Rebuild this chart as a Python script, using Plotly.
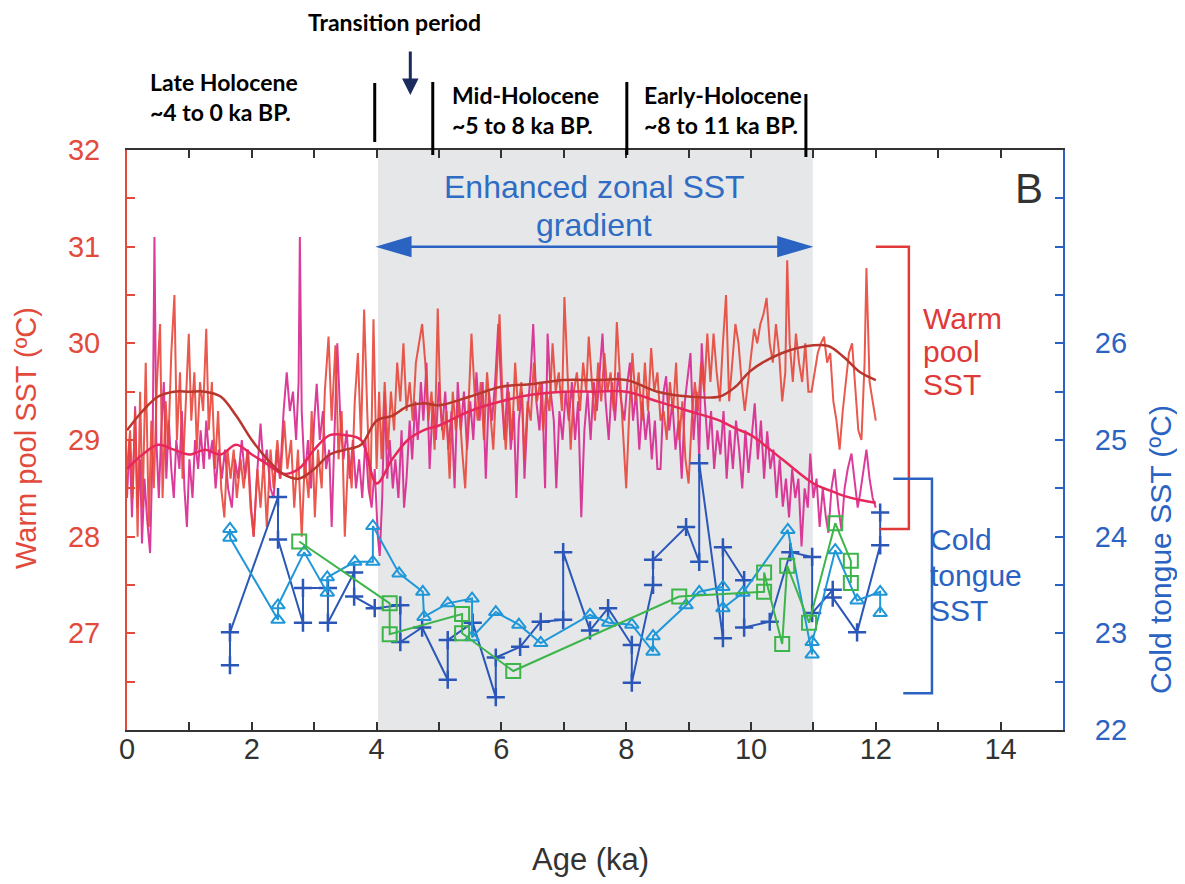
import plotly.graph_objects as go

# ---------------- Warm pool SST (left axis) ----------------
wp_red_age = [0.00,0.05,0.09,0.13,0.17,0.21,0.25,0.30,0.35,0.39,0.43,0.48,0.53,0.57,0.62,0.66,0.71,0.76,0.80,0.85,0.89,0.94,0.99,1.03,1.08,1.12,1.17,1.22,1.27,1.31,1.36,1.41,1.46,1.51,1.56,1.61,1.66,1.71,1.76,1.82,1.87,1.93,1.98,2.03,2.09,2.14,2.19,2.24,2.30,2.35,2.41,2.46,2.52,2.57,2.63,2.68,2.74,2.80,2.85,2.91,2.96,3.01,3.06,3.12,3.17,3.23,3.28,3.34,3.39,3.44,3.49,3.55,3.60,3.65,3.70,3.75,3.80,3.85,3.90,3.95,4.00,4.04,4.08,4.13,4.18,4.23,4.28,4.33,4.38,4.43,4.48,4.53,4.58,4.63,4.68,4.73,4.78,4.83,4.88,4.93,4.98,5.02,5.07,5.12,5.17,5.22,5.27,5.32,5.37,5.42,5.47,5.52,5.57,5.62,5.67,5.72,5.77,5.82,5.87,5.92,5.97,6.02,6.07,6.12,6.17,6.22,6.27,6.32,6.37,6.42,6.47,6.52,6.57,6.62,6.67,6.72,6.77,6.82,6.87,6.92,6.97,7.01,7.06,7.11,7.16,7.21,7.26,7.31,7.36,7.40,7.45,7.50,7.55,7.60,7.65,7.70,7.75,7.80,7.85,7.90,7.95,8.00,8.05,8.10,8.15,8.20,8.25,8.30,8.35,8.40,8.45,8.50,8.55,8.60,8.65,8.70,8.75,8.80,8.85,8.90,8.95,9.00,9.05,9.10,9.15,9.20,9.25,9.30,9.35,9.40,9.45,9.50,9.55,9.60,9.65,9.70,9.75,9.80,9.85,9.90,9.95,10.00,10.05,10.10,10.15,10.20,10.25,10.30,10.35,10.40,10.45,10.50,10.55,10.58,10.62,10.67,10.72,10.77,10.82,10.87,10.92,10.97,11.02,11.07,11.12,11.17,11.22,11.27,11.32,11.37,11.42,11.47,11.52,11.57,11.62,11.67,11.72,11.77,11.82,11.85,11.90,11.95,12.00]
wp_red_sst = [28.7,29.1,28.4,29.3,28.0,29.5,28.3,29.8,28.1,29.2,28.5,29.6,30.2,28.4,29.4,28.9,29.9,30.5,29.0,29.7,28.6,29.3,30.1,29.2,29.7,28.9,29.6,29.3,30.15,29.1,29.6,28.7,29.3,28.5,28.2,28.9,28.6,28.9,28.4,28.8,28.5,28.9,28.3,28.0,28.7,28.3,28.8,28.1,28.9,28.5,29.0,28.6,29.2,28.7,29.0,28.3,28.9,28.0,28.8,28.4,29.3,28.2,28.9,28.5,29.5,30.07,29.2,29.98,28.8,29.3,28.0,28.9,28.5,29.4,29.9,29.0,30.35,29.3,28.4,30.25,28.7,29.5,28.8,29.6,28.9,29.5,29.1,29.8,29.4,30.0,29.3,29.6,29.2,29.8,30.0,30.2,29.8,29.2,29.5,28.9,30.36,29.4,29.0,29.3,28.6,29.5,29.1,29.4,28.9,28.5,29.3,30.1,29.5,29.2,29.6,29.0,29.7,29.3,28.9,29.6,30.3,29.4,28.9,29.5,29.0,29.8,29.3,29.6,28.8,29.4,29.2,29.8,29.4,29.6,29.1,29.5,29.3,30.0,29.5,29.7,29.3,30.48,29.6,28.9,29.5,29.7,29.3,29.8,29.5,30.07,29.6,29.2,29.8,29.4,29.9,29.5,29.7,29.3,30.22,29.6,29.0,28.5,29.3,29.9,29.4,29.7,29.2,29.8,29.3,29.95,29.5,29.7,29.2,29.3,29.0,29.6,29.3,29.8,29.0,29.4,28.8,28.55,29.2,29.6,29.3,29.8,29.5,30.1,29.6,30.1,29.7,29.4,30.0,30.5,29.4,29.8,30.2,30.0,29.6,29.3,29.6,29.9,30.15,30.0,30.2,30.3,30.47,30.0,29.8,30.2,29.9,29.4,29.7,30.86,30.0,29.6,30.1,29.8,29.6,30.0,29.5,29.5,29.7,29.9,30.0,30.07,29.8,29.9,29.4,29.2,28.9,29.3,29.6,29.9,30.0,29.5,29.1,29.0,29.8,30.78,29.6,29.4,29.2]

wp_mag_age = [0.00,0.04,0.08,0.13,0.17,0.21,0.24,0.28,0.32,0.37,0.41,0.44,0.47,0.51,0.55,0.59,0.63,0.67,0.71,0.75,0.79,0.84,0.88,0.92,0.96,1.00,1.05,1.09,1.14,1.18,1.23,1.27,1.32,1.37,1.42,1.47,1.52,1.57,1.62,1.68,1.73,1.78,1.84,1.89,1.94,1.99,2.03,2.08,2.14,2.19,2.24,2.30,2.35,2.40,2.45,2.51,2.56,2.61,2.66,2.71,2.75,2.77,2.80,2.85,2.90,2.95,3.00,3.04,3.09,3.14,3.19,3.24,3.28,3.33,3.37,3.42,3.47,3.52,3.57,3.62,3.67,3.72,3.77,3.82,3.87,3.92,3.97,4.02,4.05,4.09,4.13,4.17,4.21,4.26,4.30,4.35,4.40,4.44,4.48,4.53,4.57,4.62,4.66,4.71,4.75,4.80,4.85,4.90,4.95,5.00,5.05,5.10,5.15,5.20,5.25,5.30,5.35,5.40,5.45,5.50,5.55,5.60,5.65,5.70,5.75,5.80,5.85,5.90,5.95,6.00,6.05,6.10,6.15,6.20,6.24,6.28,6.33,6.37,6.42,6.47,6.51,6.56,6.61,6.65,6.70,6.74,6.79,6.84,6.88,6.93,6.98,7.03,7.08,7.13,7.18,7.23,7.28,7.33,7.38,7.43,7.48,7.53,7.58,7.62,7.67,7.72,7.77,7.82,7.87,7.92,7.97,8.02,8.06,8.11,8.16,8.21,8.26,8.31,8.36,8.41,8.46,8.50,8.55,8.60,8.64,8.69,8.74,8.79,8.84,8.89,8.94,8.99,9.03,9.08,9.13,9.17,9.21,9.26,9.31,9.36,9.41,9.46,9.51,9.56,9.61,9.66,9.71,9.76,9.81,9.86,9.91,9.96,10.01,10.06,10.11,10.16,10.21,10.26,10.31,10.36,10.41,10.46,10.51,10.56,10.61,10.66,10.71,10.76,10.81,10.86,10.91,10.95,11.00,11.05,11.10,11.15,11.20,11.24,11.29,11.34,11.40,11.45,11.50,11.55,11.61,11.66,11.71,11.75,11.80,11.85,11.90,11.95,12.00]
wp_mag_sst = [28.4,29.0,28.2,29.35,28.3,28.8,27.93,28.6,28.2,27.83,28.9,31.1,29.0,28.4,29.1,29.6,28.6,29.2,28.7,28.4,29.0,28.7,29.3,28.5,28.1,28.8,28.4,29.0,28.7,29.1,28.7,29.2,28.8,29.0,28.5,28.9,28.6,28.9,28.5,28.3,28.8,28.6,29.0,28.6,28.9,28.3,28.0,28.6,29.17,28.7,28.9,28.5,28.4,28.9,28.6,29.3,29.7,29.3,29.5,29.0,29.6,31.1,29.3,28.6,29.0,28.5,29.2,29.58,29.0,29.3,28.7,28.9,28.1,29.3,30.0,29.2,28.8,29.1,28.6,29.0,28.5,28.8,28.4,29.0,28.5,28.3,28.7,28.0,27.8,28.4,29.5,28.6,29.0,28.5,28.8,28.4,29.1,28.3,28.6,29.2,28.8,29.4,29.0,29.6,29.2,29.8,28.7,29.4,29.0,29.6,29.1,29.5,28.9,29.3,28.5,29.6,29.1,29.5,28.9,29.4,29.0,29.7,29.2,29.6,28.6,29.5,29.2,29.6,30.2,29.5,29.0,29.6,28.9,29.3,28.4,29.2,29.5,28.6,29.3,29.7,30.2,29.4,29.1,29.6,28.5,30.1,29.5,29.2,28.5,29.3,29.0,29.5,29.2,29.6,29.0,29.4,28.2,29.1,29.5,29.0,29.6,29.3,29.8,30.1,29.4,29.0,29.6,29.2,29.7,29.4,29.2,29.6,29.8,29.2,29.5,28.9,29.4,29.0,29.3,28.8,29.2,28.7,28.7,29.5,29.66,29.1,29.4,28.9,29.2,28.6,29.4,29.7,29.9,29.0,29.5,28.8,30.0,29.4,28.9,29.3,28.7,29.1,28.85,29.3,28.6,29.1,28.7,29.2,28.9,28.5,29.1,28.66,29.0,29.38,28.8,29.2,28.6,29.09,28.7,28.9,28.4,28.8,28.31,28.6,28.2,28.7,28.4,28.6,27.9,28.5,28.3,28.86,28.4,28.6,28.1,28.5,28.2,28.04,28.5,28.7,28.3,28.07,28.5,28.7,28.86,28.6,28.3,28.45,28.7,28.9,28.6,28.4,28.3]

smooth_age = [0.0,0.25,0.5,0.75,1.0,1.25,1.5,1.75,2.0,2.25,2.5,2.75,3.0,3.25,3.5,3.75,4.0,4.25,4.5,4.75,5.0,5.5,6.0,6.5,7.0,7.5,8.0,8.5,9.0,9.5,9.75,10.0,10.5,11.0,11.25,11.5,11.75,12.0]
smooth_red = [29.1,29.3,29.45,29.5,29.5,29.5,29.45,29.25,29.0,28.8,28.65,28.6,28.7,28.85,28.9,28.95,29.2,29.25,29.35,29.38,29.36,29.45,29.55,29.58,29.62,29.62,29.62,29.5,29.45,29.45,29.55,29.72,29.9,29.98,29.97,29.85,29.7,29.62]
smooth_mag = [28.7,28.85,28.95,28.9,28.85,28.9,28.85,28.95,28.85,28.75,28.65,28.7,28.9,29.05,29.05,29.0,28.55,28.8,29.0,29.1,29.15,29.3,29.4,29.47,29.5,29.5,29.5,29.4,29.3,29.2,29.12,29.05,28.8,28.55,28.48,28.42,28.38,28.35]

# ---------------- Cold tongue SST (right axis) ----------------
ct_cross_age = [1.65,1.65,2.42,2.42,2.82,2.82,3.22,3.22,3.64,3.64,3.97,4.38,4.38,4.73,5.14,5.14,5.54,5.91,5.91,6.30,6.63,6.99,6.99,7.42,7.71,8.09,8.09,8.43,8.43,8.96,9.17,9.17,9.55,9.55,9.89,9.89,10.30,10.63,10.98,10.98,11.31,11.31,11.70,12.07,12.07]
ct_cross_sst = [22.67,23.01,24.41,23.97,23.11,23.47,23.47,23.11,23.63,23.38,23.26,23.29,22.91,23.06,22.52,22.93,23.11,22.34,22.75,22.86,23.12,23.14,23.84,23.03,23.26,22.88,22.49,23.50,23.76,24.10,23.74,24.76,22.95,23.89,23.55,23.06,23.12,23.84,23.79,23.21,23.45,23.37,23.01,23.91,24.25]

ct_tri_age = [1.65,1.65,2.42,2.42,2.84,3.21,3.21,3.65,3.94,3.94,4.36,4.74,4.76,5.14,5.53,5.53,5.91,6.28,6.63,7.42,7.72,8.09,8.43,8.43,8.96,9.17,9.55,9.55,9.87,10.59,10.98,10.98,11.35,11.70,12.07,12.07]
ct_tri_sst = [24.08,23.99,23.14,23.29,23.84,23.42,23.58,23.74,23.74,24.11,23.62,23.43,23.17,23.31,23.36,22.96,23.22,23.09,22.90,23.19,23.11,23.09,22.81,22.97,23.29,23.43,23.48,23.26,23.42,24.07,22.78,22.91,23.86,23.34,23.43,23.21]

ct_sq_age = [2.76,4.21,4.21,5.37,5.37,6.19,8.85,10.21,10.21,10.50,10.58,10.93,11.35,11.60,11.60]
ct_sq_sst = [23.95,23.31,22.99,23.20,23.00,22.61,23.38,23.43,23.63,22.89,23.70,23.11,24.14,23.75,23.52]

x_ticks = [0, 1, 2, 3, 4, 5, 6, 7, 8, 9, 10, 11, 12, 13, 14, 15]
left_ticks = [26, 26.5, 27, 27.5, 28, 28.5, 29, 29.5, 30, 30.5, 31, 31.5, 32]
right_ticks = [22, 22.5, 23, 23.5, 24, 24.5, 25, 25.5, 26, 26.5, 27, 27.5, 28]

RED = "#e8473b"
MAG = "#d8288f"
DKRED = "#b8362c"
CRIM = "#e6285c"
DKBLUE = "#2b57b8"
LTBLUE = "#1f97d8"
GREEN = "#3cb54a"
AXRED = "#e24a3c"
AXBLUE = "#2a63c2"
FONT = "Liberation Sans, Arial, sans-serif"
BOLDFONT = "Lato, Liberation Sans, sans-serif"

# page body adds an 8px offset; compensate so plot area sits at x 127-1063, y 150-730
OFF = 8
W, H = 1185 - OFF, 884 - OFF
PX0, PX1, PY0, PY1 = 127, 1063, 150, 730
ML, MR, MT, MB = PX0 - OFF, (W + OFF) - PX1, PY0 - OFF, (H + OFF) - PY1


def pxx(px):
    return (px - PX0) / (PX1 - PX0)


def pxy(py):
    return (PY1 - py) / (PY1 - PY0)


fig = go.Figure()

fig.add_trace(go.Scatter(x=wp_mag_age, y=wp_mag_sst, mode="lines",
                         line=dict(color=MAG, width=2), opacity=0.9, showlegend=False))
fig.add_trace(go.Scatter(x=wp_red_age, y=wp_red_sst, mode="lines",
                         line=dict(color=RED, width=2), opacity=0.9, showlegend=False))
fig.add_trace(go.Scatter(x=smooth_age, y=smooth_mag, mode="lines",
                         line=dict(color=CRIM, width=2.5, shape="spline"), showlegend=False))
fig.add_trace(go.Scatter(x=smooth_age, y=smooth_red, mode="lines",
                         line=dict(color=DKRED, width=2.5, shape="spline"), showlegend=False))

fig.add_trace(go.Scatter(x=ct_cross_age, y=ct_cross_sst, mode="lines+markers", yaxis="y2",
                         line=dict(color=DKBLUE, width=2),
                         marker=dict(symbol="cross-thin", size=13, line=dict(color=DKBLUE, width=2.5)),
                         showlegend=False))
fig.add_trace(go.Scatter(x=ct_tri_age, y=ct_tri_sst, mode="lines+markers", yaxis="y2",
                         line=dict(color=LTBLUE, width=2),
                         marker=dict(symbol="triangle-up-open", size=12, color=LTBLUE, line=dict(width=2)),
                         showlegend=False))
fig.add_trace(go.Scatter(x=ct_sq_age, y=ct_sq_sst, mode="lines+markers", yaxis="y2",
                         line=dict(color=GREEN, width=2),
                         marker=dict(symbol="square-open", size=14, color=GREEN, line=dict(width=2)),
                         showlegend=False))

shapes = [
    dict(type="rect", xref="x", yref="paper", x0=4.02, x1=10.99, y0=0, y1=1,
         fillcolor="#e6e7e9", line=dict(width=0), layer="below"),
    # double-headed arrow
    dict(type="line", xref="x", yref="y", x0=4.4, x1=10.6, y0=31.0, y1=31.0,
         line=dict(color=AXBLUE, width=2.5)),
    dict(type="path", xref="x", yref="y", path="M 3.98 31.0 L 4.56 31.11 L 4.56 30.89 Z",
         fillcolor=AXBLUE, line=dict(width=0)),
    dict(type="path", xref="x", yref="y", path="M 11.0 31.0 L 10.42 31.11 L 10.42 30.89 Z",
         fillcolor=AXBLUE, line=dict(width=0)),
    # brackets
    dict(type="path", xref="x", yref="y", path="M 12.0 31.0 L 12.53 31.0 L 12.53 28.08 L 12.05 28.08",
         line=dict(color="#e03a3a", width=2.5)),
    dict(type="path", xref="x", yref="y", path="M 12.28 28.6 L 12.9 28.6 L 12.9 26.38 L 12.44 26.38",
         line=dict(color=AXBLUE, width=2.5)),
    # period separators above plot
    dict(type="line", xref="x", yref="paper", x0=3.97, x1=3.97, y0=pxy(142), y1=pxy(83),
         line=dict(color="black", width=3)),
    dict(type="line", xref="x", yref="paper", x0=4.90, x1=4.90, y0=pxy(155), y1=pxy(82),
         line=dict(color="black", width=3)),
    dict(type="line", xref="x", yref="paper", x0=8.01, x1=8.01, y0=pxy(155), y1=pxy(82),
         line=dict(color="black", width=3)),
    dict(type="line", xref="x", yref="paper", x0=10.88, x1=10.88, y0=pxy(157), y1=pxy(94),
         line=dict(color="black", width=3)),
]


def txt(text, x, y, size, color, xref="x", yref="y", xanchor="center", family=FONT, angle=0):
    return dict(text=text, x=x, y=y, xref=xref, yref=yref, showarrow=False, xanchor=xanchor,
                yanchor="middle", textangle=angle, font=dict(family=family, size=size, color=color))


annotations = [
    txt("Enhanced zonal SST", 7.49, 31.62, 32, "#2f6cc4"),
    txt("gradient", 7.49, 31.22, 32, "#2f6cc4"),
    txt("B", 14.45, 31.6, 42, "#333333"),
    txt("Warm", 12.72, 30.26, 30, "#e0393a", xanchor="left"),
    txt("pool", 12.72, 29.92, 30, "#e0393a", xanchor="left"),
    txt("SST", 12.72, 29.57, 30, "#e0393a", xanchor="left"),
    txt("Cold", 12.84, 27.97, 30, AXBLUE, xanchor="left"),
    txt("tongue", 12.84, 27.60, 30, AXBLUE, xanchor="left"),
    txt("SST", 12.84, 27.24, 30, AXBLUE, xanchor="left"),
    # axis titles
    txt("Warm pool SST (ºC)", pxx(26), pxy(438), 29, AXRED, xref="paper", yref="paper", angle=-90),
    txt("Cold tongue SST (ºC)", pxx(1160), pxy(550), 30, AXBLUE, xref="paper", yref="paper", angle=-90),
    txt("Age (ka)", pxx(590), pxy(860), 31, "#333333", xref="paper", yref="paper"),
    # period labels
    txt("<b>Transition period</b>", 4.29, pxy(22), 23, "black", yref="paper", family=BOLDFONT),
    txt("<b>Late Holocene</b>", 0.34, pxy(82), 23, "black", yref="paper", xanchor="left", family=BOLDFONT),
    txt("<b>~4 to 0 ka BP.</b>", 0.34, pxy(112), 23, "black", yref="paper", xanchor="left", family=BOLDFONT),
    txt("<b>Mid-Holocene</b>", 5.18, pxy(95), 23, "black", yref="paper", xanchor="left", family=BOLDFONT),
    txt("<b>~5 to 8 ka BP.</b>", 5.18, pxy(125), 23, "black", yref="paper", xanchor="left", family=BOLDFONT),
    txt("<b>Early-Holocene</b>", 8.25, pxy(95), 23, "black", yref="paper", xanchor="left", family=BOLDFONT),
    txt("<b>~8 to 11 ka BP.</b>", 8.25, pxy(125), 23, "black", yref="paper", xanchor="left", family=BOLDFONT),
    dict(text="", x=4.54, y=pxy(95), xref="x", yref="paper", showarrow=True,
         ax=0, ay=-45, arrowhead=2, arrowsize=1.1, arrowwidth=3, arrowcolor="#1b2b5e"),
]

fig.update_layout(
    width=W, height=H,
    margin=dict(l=ML, r=MR, t=MT, b=MB, autoexpand=False),
    paper_bgcolor="white", plot_bgcolor="white",
    shapes=shapes, annotations=annotations,
    font=dict(family=FONT),
    xaxis=dict(range=[0, 15], tickvals=x_ticks,
               ticktext=[str(v) if v % 2 == 0 and v < 15 else "" for v in x_ticks],
               ticks="inside", ticklen=8, tickwidth=1.5, tickcolor="#333333",
               showline=True, linecolor="#333333", linewidth=2, mirror="ticks",
               showgrid=False, zeroline=False, automargin=False, ticklabelstandoff=-8,
               tickfont=dict(family=FONT, size=29, color="#333333")),
    yaxis=dict(range=[26, 32], tickvals=left_ticks,
               ticktext=[str(int(v)) if v == int(v) and v > 26 else "" for v in left_ticks],
               ticks="inside", ticklen=8, tickwidth=1.5, tickcolor=AXRED,
               showline=True, linecolor=AXRED, linewidth=2, automargin=False,
               showgrid=False, zeroline=False, ticklabelstandoff=19,
               tickfont=dict(family=FONT, size=29, color=AXRED)),
    yaxis2=dict(range=[22, 28], tickvals=right_ticks,
                ticktext=[str(int(v)) if v == int(v) and v <= 26 else "" for v in right_ticks],
                overlaying="y", side="right", automargin=False,
                ticks="inside", ticklen=8, tickwidth=1.5, tickcolor=AXBLUE,
                showline=True, linecolor=AXBLUE, linewidth=2,
                showgrid=False, zeroline=False, ticklabelstandoff=24,
                tickfont=dict(family=FONT, size=29, color=AXBLUE)),
)

fig.write_html("out.html")
